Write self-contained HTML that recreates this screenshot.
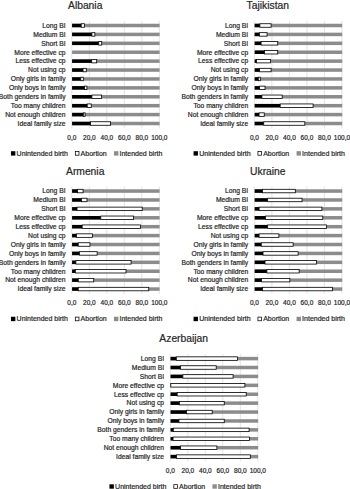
<!DOCTYPE html>
<html><head><meta charset="utf-8"><style>
html,body{margin:0;padding:0;background:#fff;width:350px;height:489px;overflow:hidden;}
svg{display:block;font-family:"Liberation Sans", sans-serif;}
text{stroke:#262626;stroke-width:0.2px;}
</style></head><body>
<svg width="350" height="489" viewBox="0 0 350 489">
<rect width="350" height="489" fill="#fff"/>
<line x1="71.80" y1="21.00" x2="71.80" y2="128.30" stroke="#d9d9d9" stroke-width="0.75"/>
<line x1="89.30" y1="21.00" x2="89.30" y2="128.30" stroke="#d9d9d9" stroke-width="0.75"/>
<line x1="106.80" y1="21.00" x2="106.80" y2="128.30" stroke="#d9d9d9" stroke-width="0.75"/>
<line x1="124.30" y1="21.00" x2="124.30" y2="128.30" stroke="#d9d9d9" stroke-width="0.75"/>
<line x1="141.80" y1="21.00" x2="141.80" y2="128.30" stroke="#d9d9d9" stroke-width="0.75"/>
<line x1="159.30" y1="21.00" x2="159.30" y2="128.30" stroke="#d9d9d9" stroke-width="0.75"/>
<text x="85.20" y="9.00" font-size="10.3" text-anchor="middle" fill="#262626">Albania</text>
<rect x="72.10" y="23.75" width="87.50" height="3.5" fill="#8c8c8c"/>
<rect x="72.10" y="23.75" width="9.11" height="3.5" fill="#000"/>
<rect x="81.21" y="23.75" width="3.33" height="3.50" fill="#fff" stroke="#000" stroke-width="0.8"/>
<text x="65.60" y="27.80" font-size="6.75" text-anchor="end" fill="#262626">Long BI</text>
<rect x="72.10" y="32.66" width="87.50" height="3.5" fill="#8c8c8c"/>
<rect x="72.10" y="32.66" width="19.79" height="3.5" fill="#000"/>
<rect x="91.89" y="32.66" width="2.98" height="3.50" fill="#fff" stroke="#000" stroke-width="0.8"/>
<text x="65.60" y="36.71" font-size="6.75" text-anchor="end" fill="#262626">Medium BI</text>
<rect x="72.10" y="41.57" width="87.50" height="3.5" fill="#8c8c8c"/>
<rect x="72.10" y="41.57" width="26.61" height="3.5" fill="#000"/>
<rect x="98.71" y="41.57" width="2.98" height="3.50" fill="#fff" stroke="#000" stroke-width="0.8"/>
<text x="65.60" y="45.62" font-size="6.75" text-anchor="end" fill="#262626">Short BI</text>
<rect x="72.10" y="50.48" width="87.50" height="3.5" fill="#8c8c8c"/>
<text x="65.60" y="54.53" font-size="6.75" text-anchor="end" fill="#262626">More effective cp</text>
<rect x="72.10" y="59.39" width="87.50" height="3.5" fill="#8c8c8c"/>
<rect x="72.10" y="59.39" width="19.61" height="3.5" fill="#000"/>
<rect x="91.71" y="59.39" width="4.99" height="3.50" fill="#fff" stroke="#000" stroke-width="0.8"/>
<text x="65.60" y="63.44" font-size="6.75" text-anchor="end" fill="#262626">Less effective cp</text>
<rect x="72.10" y="68.30" width="87.50" height="3.5" fill="#8c8c8c"/>
<rect x="72.10" y="68.30" width="10.95" height="3.5" fill="#000"/>
<rect x="83.05" y="68.30" width="3.24" height="3.50" fill="#fff" stroke="#000" stroke-width="0.8"/>
<text x="65.60" y="72.35" font-size="6.75" text-anchor="end" fill="#262626">Not using cp</text>
<rect x="72.10" y="77.21" width="87.50" height="3.5" fill="#8c8c8c"/>
<rect x="72.10" y="77.21" width="8.67" height="3.5" fill="#000"/>
<rect x="80.77" y="77.21" width="2.54" height="3.50" fill="#fff" stroke="#000" stroke-width="0.8"/>
<text x="65.60" y="81.26" font-size="6.75" text-anchor="end" fill="#262626">Only girls in family</text>
<rect x="72.10" y="86.12" width="87.50" height="3.5" fill="#8c8c8c"/>
<rect x="72.10" y="86.12" width="12.44" height="3.5" fill="#000"/>
<rect x="84.54" y="86.12" width="2.36" height="3.50" fill="#fff" stroke="#000" stroke-width="0.8"/>
<text x="65.60" y="90.17" font-size="6.75" text-anchor="end" fill="#262626">Only boys in family</text>
<rect x="72.10" y="95.03" width="87.50" height="3.5" fill="#8c8c8c"/>
<rect x="72.10" y="95.03" width="19.79" height="3.5" fill="#000"/>
<rect x="91.89" y="95.03" width="9.71" height="3.50" fill="#fff" stroke="#000" stroke-width="0.8"/>
<text x="65.60" y="99.08" font-size="6.75" text-anchor="end" fill="#262626">Both genders in family</text>
<rect x="72.10" y="103.94" width="87.50" height="3.5" fill="#8c8c8c"/>
<rect x="72.10" y="103.94" width="15.15" height="3.5" fill="#000"/>
<rect x="87.25" y="103.94" width="4.02" height="3.50" fill="#fff" stroke="#000" stroke-width="0.8"/>
<text x="65.60" y="107.99" font-size="6.75" text-anchor="end" fill="#262626">Too many children</text>
<rect x="72.10" y="112.85" width="87.50" height="3.5" fill="#8c8c8c"/>
<rect x="72.10" y="112.85" width="11.21" height="3.5" fill="#000"/>
<rect x="83.31" y="112.85" width="1.75" height="3.50" fill="#fff" stroke="#000" stroke-width="0.8"/>
<text x="65.60" y="116.90" font-size="6.75" text-anchor="end" fill="#262626">Not enough children</text>
<rect x="72.10" y="121.76" width="87.50" height="3.5" fill="#8c8c8c"/>
<rect x="72.10" y="121.76" width="18.47" height="3.5" fill="#000"/>
<rect x="90.57" y="121.76" width="20.04" height="3.50" fill="#fff" stroke="#000" stroke-width="0.8"/>
<text x="65.60" y="125.81" font-size="6.75" text-anchor="end" fill="#262626">Ideal family size</text>
<text x="71.85" y="139.50" font-size="6.5" text-anchor="middle" fill="#262626">0,0</text>
<text x="89.35" y="139.50" font-size="6.5" text-anchor="middle" fill="#262626">20,0</text>
<text x="106.85" y="139.50" font-size="6.5" text-anchor="middle" fill="#262626">40,0</text>
<text x="124.35" y="139.50" font-size="6.5" text-anchor="middle" fill="#262626">60,0</text>
<text x="141.85" y="139.50" font-size="6.5" text-anchor="middle" fill="#262626">80,0</text>
<text x="159.35" y="139.50" font-size="6.5" text-anchor="middle" fill="#262626">100,0</text>
<rect x="10.95" y="151.20" width="4.4" height="4.4" fill="#000"/>
<text x="16.60" y="155.60" font-size="7.0" fill="#262626">Unintended birth</text>
<rect x="75.33" y="151.57" width="3.65" height="3.65" fill="#fff" stroke="#000" stroke-width="0.75"/>
<text x="80.60" y="155.60" font-size="7.0" fill="#262626">Abortion</text>
<rect x="113.95" y="151.20" width="4.4" height="4.4" fill="#8c8c8c"/>
<text x="119.50" y="155.60" font-size="7.0" fill="#262626">Intended birth</text>
<line x1="254.40" y1="21.00" x2="254.40" y2="128.30" stroke="#d9d9d9" stroke-width="0.75"/>
<line x1="271.90" y1="21.00" x2="271.90" y2="128.30" stroke="#d9d9d9" stroke-width="0.75"/>
<line x1="289.40" y1="21.00" x2="289.40" y2="128.30" stroke="#d9d9d9" stroke-width="0.75"/>
<line x1="306.90" y1="21.00" x2="306.90" y2="128.30" stroke="#d9d9d9" stroke-width="0.75"/>
<line x1="324.40" y1="21.00" x2="324.40" y2="128.30" stroke="#d9d9d9" stroke-width="0.75"/>
<line x1="341.90" y1="21.00" x2="341.90" y2="128.30" stroke="#d9d9d9" stroke-width="0.75"/>
<text x="267.80" y="9.00" font-size="10.3" text-anchor="middle" fill="#262626">Tajikistan</text>
<rect x="254.70" y="23.75" width="87.50" height="3.5" fill="#8c8c8c"/>
<rect x="254.70" y="23.75" width="5.18" height="3.5" fill="#000"/>
<rect x="259.88" y="23.75" width="11.20" height="3.50" fill="#fff" stroke="#000" stroke-width="0.8"/>
<text x="248.20" y="27.80" font-size="6.75" text-anchor="end" fill="#262626">Long BI</text>
<rect x="254.70" y="32.66" width="87.50" height="3.5" fill="#8c8c8c"/>
<rect x="254.70" y="32.66" width="4.65" height="3.5" fill="#000"/>
<rect x="259.35" y="32.66" width="7.70" height="3.50" fill="#fff" stroke="#000" stroke-width="0.8"/>
<text x="248.20" y="36.71" font-size="6.75" text-anchor="end" fill="#262626">Medium BI</text>
<rect x="254.70" y="41.57" width="87.50" height="3.5" fill="#8c8c8c"/>
<rect x="254.70" y="41.57" width="6.40" height="3.5" fill="#000"/>
<rect x="261.10" y="41.57" width="16.62" height="3.50" fill="#fff" stroke="#000" stroke-width="0.8"/>
<text x="248.20" y="45.62" font-size="6.75" text-anchor="end" fill="#262626">Short BI</text>
<rect x="254.70" y="50.48" width="87.50" height="3.5" fill="#8c8c8c"/>
<rect x="254.70" y="50.48" width="9.81" height="3.5" fill="#000"/>
<rect x="264.51" y="50.48" width="13.21" height="3.50" fill="#fff" stroke="#000" stroke-width="0.8"/>
<text x="248.20" y="54.53" font-size="6.75" text-anchor="end" fill="#262626">More effective cp</text>
<rect x="254.70" y="59.39" width="87.50" height="3.5" fill="#8c8c8c"/>
<rect x="254.70" y="59.39" width="1.76" height="3.5" fill="#000"/>
<rect x="256.46" y="59.39" width="14.09" height="3.50" fill="#fff" stroke="#000" stroke-width="0.8"/>
<text x="248.20" y="63.44" font-size="6.75" text-anchor="end" fill="#262626">Less effective cp</text>
<rect x="254.70" y="68.30" width="87.50" height="3.5" fill="#8c8c8c"/>
<rect x="254.70" y="68.30" width="4.91" height="3.5" fill="#000"/>
<rect x="259.61" y="68.30" width="11.46" height="3.50" fill="#fff" stroke="#000" stroke-width="0.8"/>
<text x="248.20" y="72.35" font-size="6.75" text-anchor="end" fill="#262626">Not using cp</text>
<rect x="254.70" y="77.21" width="87.50" height="3.5" fill="#8c8c8c"/>
<rect x="254.70" y="77.21" width="3.60" height="3.5" fill="#000"/>
<rect x="258.30" y="77.21" width="2.01" height="3.50" fill="#fff" stroke="#000" stroke-width="0.8"/>
<text x="248.20" y="81.26" font-size="6.75" text-anchor="end" fill="#262626">Only girls in family</text>
<rect x="254.70" y="86.12" width="87.50" height="3.5" fill="#8c8c8c"/>
<rect x="254.70" y="86.12" width="4.91" height="3.5" fill="#000"/>
<rect x="259.61" y="86.12" width="5.42" height="3.50" fill="#fff" stroke="#000" stroke-width="0.8"/>
<text x="248.20" y="90.17" font-size="6.75" text-anchor="end" fill="#262626">Only boys in family</text>
<rect x="254.70" y="95.03" width="87.50" height="3.5" fill="#8c8c8c"/>
<rect x="254.70" y="95.03" width="7.19" height="3.5" fill="#000"/>
<rect x="261.89" y="95.03" width="20.30" height="3.50" fill="#fff" stroke="#000" stroke-width="0.8"/>
<text x="248.20" y="99.08" font-size="6.75" text-anchor="end" fill="#262626">Both genders in family</text>
<rect x="254.70" y="103.94" width="87.50" height="3.5" fill="#8c8c8c"/>
<rect x="254.70" y="103.94" width="25.48" height="3.5" fill="#000"/>
<rect x="280.18" y="103.94" width="32.90" height="3.50" fill="#fff" stroke="#000" stroke-width="0.8"/>
<text x="248.20" y="107.99" font-size="6.75" text-anchor="end" fill="#262626">Too many children</text>
<rect x="254.70" y="112.85" width="87.50" height="3.5" fill="#8c8c8c"/>
<rect x="254.70" y="112.85" width="4.39" height="3.5" fill="#000"/>
<rect x="259.09" y="112.85" width="5.16" height="3.50" fill="#fff" stroke="#000" stroke-width="0.8"/>
<text x="248.20" y="116.90" font-size="6.75" text-anchor="end" fill="#262626">Not enough children</text>
<rect x="254.70" y="121.76" width="87.50" height="3.5" fill="#8c8c8c"/>
<rect x="254.70" y="121.76" width="9.02" height="3.5" fill="#000"/>
<rect x="263.72" y="121.76" width="41.12" height="3.50" fill="#fff" stroke="#000" stroke-width="0.8"/>
<text x="248.20" y="125.81" font-size="6.75" text-anchor="end" fill="#262626">Ideal family size</text>
<text x="254.45" y="139.50" font-size="6.5" text-anchor="middle" fill="#262626">0,0</text>
<text x="271.95" y="139.50" font-size="6.5" text-anchor="middle" fill="#262626">20,0</text>
<text x="289.45" y="139.50" font-size="6.5" text-anchor="middle" fill="#262626">40,0</text>
<text x="306.95" y="139.50" font-size="6.5" text-anchor="middle" fill="#262626">60,0</text>
<text x="324.45" y="139.50" font-size="6.5" text-anchor="middle" fill="#262626">80,0</text>
<text x="341.95" y="139.50" font-size="6.5" text-anchor="middle" fill="#262626">100,0</text>
<rect x="193.55" y="151.20" width="4.4" height="4.4" fill="#000"/>
<text x="199.20" y="155.60" font-size="7.0" fill="#262626">Unintended birth</text>
<rect x="257.93" y="151.57" width="3.65" height="3.65" fill="#fff" stroke="#000" stroke-width="0.75"/>
<text x="263.20" y="155.60" font-size="7.0" fill="#262626">Abortion</text>
<rect x="296.55" y="151.20" width="4.4" height="4.4" fill="#8c8c8c"/>
<text x="302.10" y="155.60" font-size="7.0" fill="#262626">Intended birth</text>
<line x1="71.80" y1="186.55" x2="71.80" y2="293.85" stroke="#d9d9d9" stroke-width="0.75"/>
<line x1="89.30" y1="186.55" x2="89.30" y2="293.85" stroke="#d9d9d9" stroke-width="0.75"/>
<line x1="106.80" y1="186.55" x2="106.80" y2="293.85" stroke="#d9d9d9" stroke-width="0.75"/>
<line x1="124.30" y1="186.55" x2="124.30" y2="293.85" stroke="#d9d9d9" stroke-width="0.75"/>
<line x1="141.80" y1="186.55" x2="141.80" y2="293.85" stroke="#d9d9d9" stroke-width="0.75"/>
<line x1="159.30" y1="186.55" x2="159.30" y2="293.85" stroke="#d9d9d9" stroke-width="0.75"/>
<text x="85.20" y="174.55" font-size="10.3" text-anchor="middle" fill="#262626">Armenia</text>
<rect x="72.10" y="189.30" width="87.50" height="3.5" fill="#8c8c8c"/>
<rect x="72.10" y="189.30" width="5.44" height="3.5" fill="#000"/>
<rect x="77.54" y="189.30" width="5.51" height="3.50" fill="#fff" stroke="#000" stroke-width="0.8"/>
<text x="65.60" y="193.35" font-size="6.75" text-anchor="end" fill="#262626">Long BI</text>
<rect x="72.10" y="198.21" width="87.50" height="3.5" fill="#8c8c8c"/>
<rect x="72.10" y="198.21" width="9.29" height="3.5" fill="#000"/>
<rect x="81.39" y="198.21" width="5.60" height="3.50" fill="#fff" stroke="#000" stroke-width="0.8"/>
<text x="65.60" y="202.26" font-size="6.75" text-anchor="end" fill="#262626">Medium BI</text>
<rect x="72.10" y="207.12" width="87.50" height="3.5" fill="#8c8c8c"/>
<rect x="72.10" y="207.12" width="4.91" height="3.5" fill="#000"/>
<rect x="77.01" y="207.12" width="65.19" height="3.50" fill="#fff" stroke="#000" stroke-width="0.8"/>
<text x="65.60" y="211.17" font-size="6.75" text-anchor="end" fill="#262626">Short BI</text>
<rect x="72.10" y="216.03" width="87.50" height="3.5" fill="#8c8c8c"/>
<rect x="72.10" y="216.03" width="28.71" height="3.5" fill="#000"/>
<rect x="100.81" y="216.03" width="32.81" height="3.50" fill="#fff" stroke="#000" stroke-width="0.8"/>
<text x="65.60" y="220.08" font-size="6.75" text-anchor="end" fill="#262626">More effective cp</text>
<rect x="72.10" y="224.94" width="87.50" height="3.5" fill="#8c8c8c"/>
<rect x="72.10" y="224.94" width="10.08" height="3.5" fill="#000"/>
<rect x="82.17" y="224.94" width="58.36" height="3.50" fill="#fff" stroke="#000" stroke-width="0.8"/>
<text x="65.60" y="228.99" font-size="6.75" text-anchor="end" fill="#262626">Less effective cp</text>
<rect x="72.10" y="233.85" width="87.50" height="3.5" fill="#8c8c8c"/>
<rect x="72.10" y="233.85" width="4.47" height="3.5" fill="#000"/>
<rect x="76.57" y="233.85" width="15.93" height="3.50" fill="#fff" stroke="#000" stroke-width="0.8"/>
<text x="65.60" y="237.90" font-size="6.75" text-anchor="end" fill="#262626">Not using cp</text>
<rect x="72.10" y="242.76" width="87.50" height="3.5" fill="#8c8c8c"/>
<rect x="72.10" y="242.76" width="6.14" height="3.5" fill="#000"/>
<rect x="78.24" y="242.76" width="11.72" height="3.50" fill="#fff" stroke="#000" stroke-width="0.8"/>
<text x="65.60" y="246.81" font-size="6.75" text-anchor="end" fill="#262626">Only girls in family</text>
<rect x="72.10" y="251.67" width="87.50" height="3.5" fill="#8c8c8c"/>
<rect x="72.10" y="251.67" width="7.28" height="3.5" fill="#000"/>
<rect x="79.38" y="251.67" width="17.76" height="3.50" fill="#fff" stroke="#000" stroke-width="0.8"/>
<text x="65.60" y="255.72" font-size="6.75" text-anchor="end" fill="#262626">Only boys in family</text>
<rect x="72.10" y="260.58" width="87.50" height="3.5" fill="#8c8c8c"/>
<rect x="72.10" y="260.58" width="3.78" height="3.5" fill="#000"/>
<rect x="75.88" y="260.58" width="55.21" height="3.50" fill="#fff" stroke="#000" stroke-width="0.8"/>
<text x="65.60" y="264.63" font-size="6.75" text-anchor="end" fill="#262626">Both genders in family</text>
<rect x="72.10" y="269.49" width="87.50" height="3.5" fill="#8c8c8c"/>
<rect x="72.10" y="269.49" width="3.25" height="3.5" fill="#000"/>
<rect x="75.35" y="269.49" width="50.66" height="3.50" fill="#fff" stroke="#000" stroke-width="0.8"/>
<text x="65.60" y="273.54" font-size="6.75" text-anchor="end" fill="#262626">Too many children</text>
<rect x="72.10" y="278.40" width="87.50" height="3.5" fill="#8c8c8c"/>
<rect x="72.10" y="278.40" width="6.14" height="3.5" fill="#000"/>
<rect x="78.24" y="278.40" width="15.49" height="3.50" fill="#fff" stroke="#000" stroke-width="0.8"/>
<text x="65.60" y="282.45" font-size="6.75" text-anchor="end" fill="#262626">Not enough children</text>
<rect x="72.10" y="287.31" width="87.50" height="3.5" fill="#8c8c8c"/>
<rect x="72.10" y="287.31" width="6.14" height="3.5" fill="#000"/>
<rect x="78.24" y="287.31" width="70.52" height="3.50" fill="#fff" stroke="#000" stroke-width="0.8"/>
<text x="65.60" y="291.36" font-size="6.75" text-anchor="end" fill="#262626">Ideal family size</text>
<text x="71.85" y="305.05" font-size="6.5" text-anchor="middle" fill="#262626">0,0</text>
<text x="89.35" y="305.05" font-size="6.5" text-anchor="middle" fill="#262626">20,0</text>
<text x="106.85" y="305.05" font-size="6.5" text-anchor="middle" fill="#262626">40,0</text>
<text x="124.35" y="305.05" font-size="6.5" text-anchor="middle" fill="#262626">60,0</text>
<text x="141.85" y="305.05" font-size="6.5" text-anchor="middle" fill="#262626">80,0</text>
<text x="159.35" y="305.05" font-size="6.5" text-anchor="middle" fill="#262626">100,0</text>
<rect x="10.95" y="316.75" width="4.4" height="4.4" fill="#000"/>
<text x="16.60" y="321.15" font-size="7.0" fill="#262626">Unintended birth</text>
<rect x="75.33" y="317.12" width="3.65" height="3.65" fill="#fff" stroke="#000" stroke-width="0.75"/>
<text x="80.60" y="321.15" font-size="7.0" fill="#262626">Abortion</text>
<rect x="113.95" y="316.75" width="4.4" height="4.4" fill="#8c8c8c"/>
<text x="119.50" y="321.15" font-size="7.0" fill="#262626">Intended birth</text>
<line x1="254.40" y1="186.55" x2="254.40" y2="293.85" stroke="#d9d9d9" stroke-width="0.75"/>
<line x1="271.90" y1="186.55" x2="271.90" y2="293.85" stroke="#d9d9d9" stroke-width="0.75"/>
<line x1="289.40" y1="186.55" x2="289.40" y2="293.85" stroke="#d9d9d9" stroke-width="0.75"/>
<line x1="306.90" y1="186.55" x2="306.90" y2="293.85" stroke="#d9d9d9" stroke-width="0.75"/>
<line x1="324.40" y1="186.55" x2="324.40" y2="293.85" stroke="#d9d9d9" stroke-width="0.75"/>
<line x1="341.90" y1="186.55" x2="341.90" y2="293.85" stroke="#d9d9d9" stroke-width="0.75"/>
<text x="267.80" y="174.55" font-size="10.3" text-anchor="middle" fill="#262626">Ukraine</text>
<rect x="254.70" y="189.30" width="87.50" height="3.5" fill="#8c8c8c"/>
<rect x="254.70" y="189.30" width="7.80" height="3.5" fill="#000"/>
<rect x="262.50" y="189.30" width="32.81" height="3.50" fill="#fff" stroke="#000" stroke-width="0.8"/>
<text x="248.20" y="193.35" font-size="6.75" text-anchor="end" fill="#262626">Long BI</text>
<rect x="254.70" y="198.21" width="87.50" height="3.5" fill="#8c8c8c"/>
<rect x="254.70" y="198.21" width="12.96" height="3.5" fill="#000"/>
<rect x="267.66" y="198.21" width="34.39" height="3.50" fill="#fff" stroke="#000" stroke-width="0.8"/>
<text x="248.20" y="202.26" font-size="6.75" text-anchor="end" fill="#262626">Medium BI</text>
<rect x="254.70" y="207.12" width="87.50" height="3.5" fill="#8c8c8c"/>
<rect x="254.70" y="207.12" width="4.39" height="3.5" fill="#000"/>
<rect x="259.09" y="207.12" width="62.82" height="3.50" fill="#fff" stroke="#000" stroke-width="0.8"/>
<text x="248.20" y="211.17" font-size="6.75" text-anchor="end" fill="#262626">Short BI</text>
<rect x="254.70" y="216.03" width="87.50" height="3.5" fill="#8c8c8c"/>
<rect x="254.70" y="216.03" width="10.77" height="3.5" fill="#000"/>
<rect x="265.47" y="216.03" width="57.31" height="3.50" fill="#fff" stroke="#000" stroke-width="0.8"/>
<text x="248.20" y="220.08" font-size="6.75" text-anchor="end" fill="#262626">More effective cp</text>
<rect x="254.70" y="224.94" width="87.50" height="3.5" fill="#8c8c8c"/>
<rect x="254.70" y="224.94" width="12.96" height="3.5" fill="#000"/>
<rect x="267.66" y="224.94" width="58.89" height="3.50" fill="#fff" stroke="#000" stroke-width="0.8"/>
<text x="248.20" y="228.99" font-size="6.75" text-anchor="end" fill="#262626">Less effective cp</text>
<rect x="254.70" y="233.85" width="87.50" height="3.5" fill="#8c8c8c"/>
<rect x="254.70" y="233.85" width="4.39" height="3.5" fill="#000"/>
<rect x="259.09" y="233.85" width="19.78" height="3.50" fill="#fff" stroke="#000" stroke-width="0.8"/>
<text x="248.20" y="237.90" font-size="6.75" text-anchor="end" fill="#262626">Not using cp</text>
<rect x="254.70" y="242.76" width="87.50" height="3.5" fill="#8c8c8c"/>
<rect x="254.70" y="242.76" width="6.57" height="3.5" fill="#000"/>
<rect x="261.27" y="242.76" width="31.85" height="3.50" fill="#fff" stroke="#000" stroke-width="0.8"/>
<text x="248.20" y="246.81" font-size="6.75" text-anchor="end" fill="#262626">Only girls in family</text>
<rect x="254.70" y="251.67" width="87.50" height="3.5" fill="#8c8c8c"/>
<rect x="254.70" y="251.67" width="8.32" height="3.5" fill="#000"/>
<rect x="263.02" y="251.67" width="35.09" height="3.50" fill="#fff" stroke="#000" stroke-width="0.8"/>
<text x="248.20" y="255.72" font-size="6.75" text-anchor="end" fill="#262626">Only boys in family</text>
<rect x="254.70" y="260.58" width="87.50" height="3.5" fill="#8c8c8c"/>
<rect x="254.70" y="260.58" width="10.34" height="3.5" fill="#000"/>
<rect x="265.04" y="260.58" width="51.45" height="3.50" fill="#fff" stroke="#000" stroke-width="0.8"/>
<text x="248.20" y="264.63" font-size="6.75" text-anchor="end" fill="#262626">Both genders in family</text>
<rect x="254.70" y="269.49" width="87.50" height="3.5" fill="#8c8c8c"/>
<rect x="254.70" y="269.49" width="12.18" height="3.5" fill="#000"/>
<rect x="266.88" y="269.49" width="32.29" height="3.50" fill="#fff" stroke="#000" stroke-width="0.8"/>
<text x="248.20" y="273.54" font-size="6.75" text-anchor="end" fill="#262626">Too many children</text>
<rect x="254.70" y="278.40" width="87.50" height="3.5" fill="#8c8c8c"/>
<rect x="254.70" y="278.40" width="6.93" height="3.5" fill="#000"/>
<rect x="261.62" y="278.40" width="28.26" height="3.50" fill="#fff" stroke="#000" stroke-width="0.8"/>
<text x="248.20" y="282.45" font-size="6.75" text-anchor="end" fill="#262626">Not enough children</text>
<rect x="254.70" y="287.31" width="87.50" height="3.5" fill="#8c8c8c"/>
<rect x="254.70" y="287.31" width="7.80" height="3.5" fill="#000"/>
<rect x="262.50" y="287.31" width="70.00" height="3.50" fill="#fff" stroke="#000" stroke-width="0.8"/>
<text x="248.20" y="291.36" font-size="6.75" text-anchor="end" fill="#262626">Ideal family size</text>
<text x="254.45" y="305.05" font-size="6.5" text-anchor="middle" fill="#262626">0,0</text>
<text x="271.95" y="305.05" font-size="6.5" text-anchor="middle" fill="#262626">20,0</text>
<text x="289.45" y="305.05" font-size="6.5" text-anchor="middle" fill="#262626">40,0</text>
<text x="306.95" y="305.05" font-size="6.5" text-anchor="middle" fill="#262626">60,0</text>
<text x="324.45" y="305.05" font-size="6.5" text-anchor="middle" fill="#262626">80,0</text>
<text x="341.95" y="305.05" font-size="6.5" text-anchor="middle" fill="#262626">100,0</text>
<rect x="193.55" y="316.75" width="4.4" height="4.4" fill="#000"/>
<text x="199.20" y="321.15" font-size="7.0" fill="#262626">Unintended birth</text>
<rect x="257.93" y="317.12" width="3.65" height="3.65" fill="#fff" stroke="#000" stroke-width="0.75"/>
<text x="263.20" y="321.15" font-size="7.0" fill="#262626">Abortion</text>
<rect x="296.55" y="316.75" width="4.4" height="4.4" fill="#8c8c8c"/>
<text x="302.10" y="321.15" font-size="7.0" fill="#262626">Intended birth</text>
<line x1="170.30" y1="354.10" x2="170.30" y2="461.40" stroke="#d9d9d9" stroke-width="0.75"/>
<line x1="187.80" y1="354.10" x2="187.80" y2="461.40" stroke="#d9d9d9" stroke-width="0.75"/>
<line x1="205.30" y1="354.10" x2="205.30" y2="461.40" stroke="#d9d9d9" stroke-width="0.75"/>
<line x1="222.80" y1="354.10" x2="222.80" y2="461.40" stroke="#d9d9d9" stroke-width="0.75"/>
<line x1="240.30" y1="354.10" x2="240.30" y2="461.40" stroke="#d9d9d9" stroke-width="0.75"/>
<line x1="257.80" y1="354.10" x2="257.80" y2="461.40" stroke="#d9d9d9" stroke-width="0.75"/>
<text x="183.70" y="342.10" font-size="10.3" text-anchor="middle" fill="#262626">Azerbaijan</text>
<rect x="170.60" y="356.85" width="87.50" height="3.5" fill="#8c8c8c"/>
<rect x="170.60" y="356.85" width="5.70" height="3.5" fill="#000"/>
<rect x="176.30" y="356.85" width="61.16" height="3.50" fill="#fff" stroke="#000" stroke-width="0.8"/>
<text x="164.10" y="360.90" font-size="6.75" text-anchor="end" fill="#262626">Long BI</text>
<rect x="170.60" y="365.76" width="87.50" height="3.5" fill="#8c8c8c"/>
<rect x="170.60" y="365.76" width="9.90" height="3.5" fill="#000"/>
<rect x="180.50" y="365.76" width="35.70" height="3.50" fill="#fff" stroke="#000" stroke-width="0.8"/>
<text x="164.10" y="369.81" font-size="6.75" text-anchor="end" fill="#262626">Medium BI</text>
<rect x="170.60" y="374.67" width="87.50" height="3.5" fill="#8c8c8c"/>
<rect x="170.60" y="374.67" width="12.26" height="3.5" fill="#000"/>
<rect x="182.86" y="374.67" width="50.22" height="3.50" fill="#fff" stroke="#000" stroke-width="0.8"/>
<text x="164.10" y="378.72" font-size="6.75" text-anchor="end" fill="#262626">Short BI</text>
<rect x="170.60" y="383.58" width="87.50" height="3.5" fill="#8c8c8c"/>
<rect x="170.60" y="383.58" width="0.20" height="3.5" fill="#000"/>
<rect x="170.79" y="383.58" width="74.11" height="3.50" fill="#fff" stroke="#000" stroke-width="0.8"/>
<text x="164.10" y="387.63" font-size="6.75" text-anchor="end" fill="#262626">More effective cp</text>
<rect x="170.60" y="392.49" width="87.50" height="3.5" fill="#8c8c8c"/>
<rect x="170.60" y="392.49" width="6.57" height="3.5" fill="#000"/>
<rect x="177.17" y="392.49" width="69.04" height="3.50" fill="#fff" stroke="#000" stroke-width="0.8"/>
<text x="164.10" y="396.54" font-size="6.75" text-anchor="end" fill="#262626">Less effective cp</text>
<rect x="170.60" y="401.40" width="87.50" height="3.5" fill="#8c8c8c"/>
<rect x="170.60" y="401.40" width="8.76" height="3.5" fill="#000"/>
<rect x="179.36" y="401.40" width="44.89" height="3.50" fill="#fff" stroke="#000" stroke-width="0.8"/>
<text x="164.10" y="405.45" font-size="6.75" text-anchor="end" fill="#262626">Not using cp</text>
<rect x="170.60" y="410.31" width="87.50" height="3.5" fill="#8c8c8c"/>
<rect x="170.60" y="410.31" width="15.94" height="3.5" fill="#000"/>
<rect x="186.54" y="410.31" width="25.64" height="3.50" fill="#fff" stroke="#000" stroke-width="0.8"/>
<text x="164.10" y="414.36" font-size="6.75" text-anchor="end" fill="#262626">Only girls in family</text>
<rect x="170.60" y="419.22" width="87.50" height="3.5" fill="#8c8c8c"/>
<rect x="170.60" y="419.22" width="8.32" height="3.5" fill="#000"/>
<rect x="178.92" y="419.22" width="45.33" height="3.50" fill="#fff" stroke="#000" stroke-width="0.8"/>
<text x="164.10" y="423.27" font-size="6.75" text-anchor="end" fill="#262626">Only boys in family</text>
<rect x="170.60" y="428.13" width="87.50" height="3.5" fill="#8c8c8c"/>
<rect x="170.60" y="428.13" width="2.72" height="3.5" fill="#000"/>
<rect x="173.32" y="428.13" width="75.78" height="3.50" fill="#fff" stroke="#000" stroke-width="0.8"/>
<text x="164.10" y="432.18" font-size="6.75" text-anchor="end" fill="#262626">Both genders in family</text>
<rect x="170.60" y="437.04" width="87.50" height="3.5" fill="#8c8c8c"/>
<rect x="170.60" y="437.04" width="2.46" height="3.5" fill="#000"/>
<rect x="173.06" y="437.04" width="76.39" height="3.50" fill="#fff" stroke="#000" stroke-width="0.8"/>
<text x="164.10" y="441.09" font-size="6.75" text-anchor="end" fill="#262626">Too many children</text>
<rect x="170.60" y="445.95" width="87.50" height="3.5" fill="#8c8c8c"/>
<rect x="170.60" y="445.95" width="9.90" height="3.5" fill="#000"/>
<rect x="180.50" y="445.95" width="36.40" height="3.50" fill="#fff" stroke="#000" stroke-width="0.8"/>
<text x="164.10" y="450.00" font-size="6.75" text-anchor="end" fill="#262626">Not enough children</text>
<rect x="170.60" y="454.86" width="87.50" height="3.5" fill="#8c8c8c"/>
<rect x="170.60" y="454.86" width="5.88" height="3.5" fill="#000"/>
<rect x="176.47" y="454.86" width="73.85" height="3.50" fill="#fff" stroke="#000" stroke-width="0.8"/>
<text x="164.10" y="458.91" font-size="6.75" text-anchor="end" fill="#262626">Ideal family size</text>
<text x="170.35" y="472.60" font-size="6.5" text-anchor="middle" fill="#262626">0,0</text>
<text x="187.85" y="472.60" font-size="6.5" text-anchor="middle" fill="#262626">20,0</text>
<text x="205.35" y="472.60" font-size="6.5" text-anchor="middle" fill="#262626">40,0</text>
<text x="222.85" y="472.60" font-size="6.5" text-anchor="middle" fill="#262626">60,0</text>
<text x="240.35" y="472.60" font-size="6.5" text-anchor="middle" fill="#262626">80,0</text>
<text x="257.85" y="472.60" font-size="6.5" text-anchor="middle" fill="#262626">100,0</text>
<rect x="109.45" y="484.30" width="4.4" height="4.4" fill="#000"/>
<text x="115.10" y="488.70" font-size="7.0" fill="#262626">Unintended birth</text>
<rect x="173.82" y="484.68" width="3.65" height="3.65" fill="#fff" stroke="#000" stroke-width="0.75"/>
<text x="179.10" y="488.70" font-size="7.0" fill="#262626">Abortion</text>
<rect x="212.45" y="484.30" width="4.4" height="4.4" fill="#8c8c8c"/>
<text x="218.00" y="488.70" font-size="7.0" fill="#262626">Intended birth</text>
</svg>
</body></html>
